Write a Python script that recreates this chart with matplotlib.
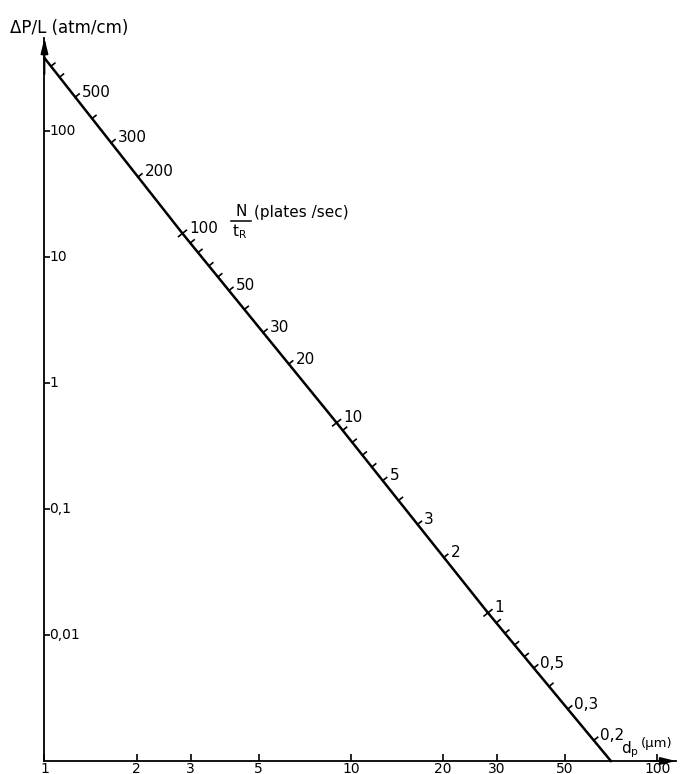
import numpy as np
import matplotlib
matplotlib.use('Agg')
import matplotlib.pyplot as plt
from matplotlib.lines import Line2D
from matplotlib.ticker import NullLocator

# line: particle size dp (um) vs pressure drop dP/L (atm/cm)
dp_line = [1.0, 2.82, 8.98, 28.0, 70.5]
dpl_line = [380, 15.4, 0.484, 0.0150, 0.001]

# N/tR scale drawn along the line
n_labels = ['500', '300', '200', '100', '50', '30', '20', '10', '5', '3', '2',
            '1', '0,5', '0,3', '0,2']
n_label_dp = [1.26, 1.65, 2.02, 2.82, 4.0, 5.17, 6.27, 8.98, 12.7, 16.5, 20.1,
              28.0, 39.5, 51.0, 62.0]
n_cross = ['100', '10', '1']
n_minor_dp = [1.05, 1.12, 1.43, 2.99, 3.17, 3.44, 3.68, 4.49, 9.4, 10.1, 10.9,
              11.7, 14.3, 29.8, 31.8, 34.2, 36.8, 44.3]

x_ticks = [1, 2, 3, 5, 10, 20, 30, 50, 100]
x_ticklabels = ['1', '2', '3', '5', '10', '20', '30', '50', '100']
y_ticks = [100, 10, 1, 0.1, 0.01]
y_ticklabels = ['100', '10', '1', '0,1', '0,01']

plt.rcParams['font.family'] = 'DejaVu Sans'
plt.rcParams['mathtext.default'] = 'regular'

fig = plt.figure(figsize=(6.82, 7.74), dpi=100)
ax = fig.add_axes([0.0652, 0.0168, 0.926, 0.934])
ax.set_xscale('log')
ax.set_yscale('log')
ax.set_xlim(1, 115)
ax.set_ylim(0.001, 547)
for s in ['top', 'right']:
    ax.spines[s].set_visible(False)
for s in ['left', 'bottom']:
    ax.spines[s].set_linewidth(1.3)
ax.xaxis.set_minor_locator(NullLocator())
ax.yaxis.set_minor_locator(NullLocator())

ax.set_xticks(x_ticks, x_ticklabels)
ax.tick_params(axis='x', direction='in', length=5, width=1.2, pad=1, labelsize=10)
ax.set_yticks(y_ticks)
ax.tick_params(axis='y', direction='in', length=4, width=1.2, labelleft=False)
for v, lab in zip(y_ticks, y_ticklabels):
    ax.annotate(lab, (0, v), xycoords=ax.get_yaxis_transform(), xytext=(3.5, 0),
                textcoords='offset points', ha='left', va='center', fontsize=10)

# axis arrows
arrow = dict(arrowstyle='-|>,head_length=0.9,head_width=0.22', color='k', lw=1.3,
             shrinkA=0, shrinkB=0)
ax.annotate('', xy=(0, 1), xytext=(0, 0.95), xycoords='axes fraction',
            arrowprops=arrow, annotation_clip=False)
ax.annotate('', xy=(1, 0), xytext=(0.96, 0), xycoords='axes fraction',
            arrowprops=arrow, annotation_clip=False)

ax.plot(dp_line, dpl_line, color='k', lw=1.8, clip_on=False)


def along(dp):
    return 10 ** np.interp(np.log10(dp), np.log10(dp_line), np.log10(dpl_line))


T = ax.transData
inv = T.inverted()
p0 = T.transform((dp_line[0], dpl_line[0]))
p1 = T.transform((dp_line[-1], dpl_line[-1]))
d = (p1 - p0) / np.hypot(*(p1 - p0))
nrm = np.array([-d[1], d[0]])


def tick(dp, out=5, back=0):
    p = T.transform((dp, along(dp)))
    a = inv.transform(p - back * nrm)
    b = inv.transform(p + out * nrm)
    ax.plot([a[0], b[0]], [a[1], b[1]], color='k', lw=1.2, clip_on=False)


for x in n_minor_dp:
    tick(x, 5)
for lab, x in zip(n_labels, n_label_dp):
    tick(x, 5, 5 if lab in n_cross else 0)
    ax.annotate(lab, (x, along(x)), xytext=(4.8, 3.6), textcoords='offset points',
                ha='left', va='center', fontsize=11)

fig.text(10 / 682, 1 - 28 / 774, 'ΔP/L (atm/cm)', fontsize=12, ha='left', va='center')
# N / tR fraction
fig.text(241 / 682, 1 - 212 / 774, 'N', fontsize=11, ha='center', va='center')
fig.add_artist(Line2D([231 / 682, 251 / 682], [1 - 221 / 774, 1 - 221 / 774],
                      color='k', lw=1.1))
fig.text(240 / 682, 1 - 232 / 774, r't$_R$', fontsize=11, ha='center', va='center')
fig.text(254 / 682, 1 - 213 / 774, '(plates /sec)', fontsize=11, ha='left', va='center')
fig.text(621 / 682, 1 - 750 / 774, r'd$_p$', fontsize=11, ha='left', va='center')
fig.text(641 / 682, 1 - 744 / 774, '(µm)', fontsize=9.5, ha='left', va='center')

fig.savefig('out.png', dpi=100)
